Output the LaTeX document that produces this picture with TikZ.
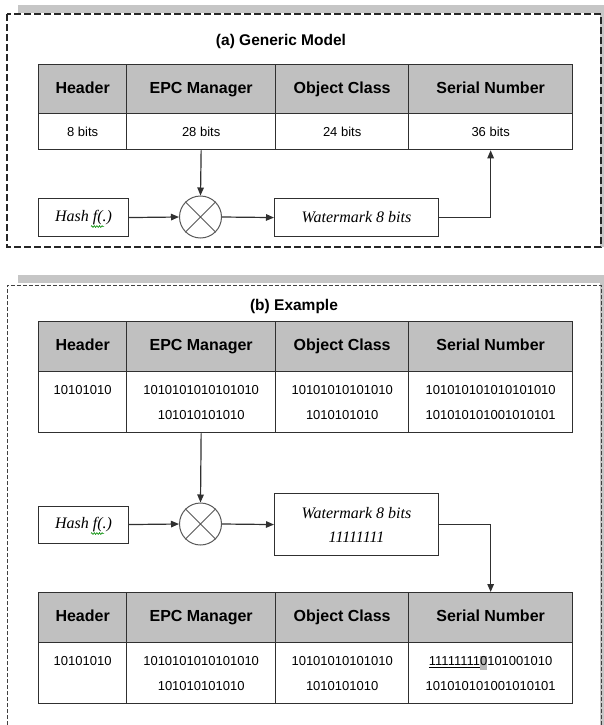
\documentclass[tikz,border=0pt]{standalone}
\usepackage{fontspec}
\setmainfont{Liberation Serif}
\setsansfont{Liberation Sans}
\usetikzlibrary{arrows.meta,calc,decorations.pathmorphing}

\definecolor{hdrgray}{HTML}{C0C0C0}
\definecolor{bargray}{HTML}{C6C6C6}
\definecolor{rulecol}{HTML}{303030}
\definecolor{markgray}{HTML}{B8B8B8}

% one row of the EPC table: prefix, top y, height, cell style, four texts
\newcommand\epcrow[8]{%
  \node[#4, minimum width=88,  minimum height=#3] (#1-1) at (38,#2)  {#5};
  \node[#4, minimum width=149, minimum height=#3] (#1-2) at (126,#2) {#6};
  \node[#4, minimum width=133, minimum height=#3] (#1-3) at (275,#2) {#7};
  \node[#4, minimum width=164, minimum height=#3] (#1-4) at (408,#2) {#8};
}

\begin{document}
\begin{tikzpicture}[x=1pt,y=-1pt,
  cellbase/.style={draw=rulecol, line width=1.3pt, rectangle, inner sep=0pt,
    anchor=north west, align=center},
  hdrcell/.style={cellbase, fill=hdrgray, text height=12pt, text depth=4pt,
    font=\sffamily\bfseries\fontsize{16}{19}\selectfont},
  datcell/.style={cellbase, fill=white,
    font=\sffamily\fontsize{13}{25}\selectfont},
  procbox/.style={draw=rulecol, line width=1.1pt, rectangle, inner sep=0pt,
    anchor=north west, align=center,
    font=\itshape\fontsize{16}{24}\selectfont},
  xorop/.style={circle, draw=black!65, line width=1pt, minimum size=42,
    inner sep=0pt},
  conn/.style={draw=rulecol, line width=1.2pt,
    -{Triangle[length=8pt,width=6.5pt]}},
  titletext/.style={font=\sffamily\bfseries\fontsize{15.5}{18}\selectfont},
  squiggle/.style={draw=green!55!black, line width=0.6pt, decorate,
    decoration={zigzag, segment length=2.6pt, amplitude=0.9pt}},
]
\useasboundingbox (0,0) rectangle (604,725);
\fill[white] (0,0) rectangle (604,725);

% ---------- panel (a): generic model ----------
\fill[bargray] (18,5) rectangle (604,13);
\fill[bargray] (600,13) rectangle (604,247);
\draw[black!85, line width=1.3pt, dash pattern=on 7pt off 3pt]
  (7,14) rectangle (601,247);
\node[titletext] (titleA) at (281,41) {(a) Generic Model};

\epcrow{aH}{64}{49}{hdrcell}{Header}{EPC Manager}{Object Class}{Serial Number}
\epcrow{aD}{113}{36}{datcell}{8 bits}{28 bits}{24 bits}{36 bits}

\node[procbox, minimum width=90, minimum height=38] (hashA) at (38,198) {Hash f(.)};
\node[xorop] (xorA) at (200.5,217) {};
\draw[black!65, line width=1pt] (xorA.45) -- (xorA.225) (xorA.135) -- (xorA.315);
\node[procbox, minimum width=164, minimum height=38] (wmA) at (274,198) {Watermark 8 bits};
\draw[squiggle] ($(hashA.center)+(7.5,9)$) -- ++(13,0);

\draw[conn] (aD-2.south) -- (xorA.north);
\draw[conn] (hashA.east) -- (xorA.west);
\draw[conn] (xorA.east) -- (wmA.west);
\draw[conn] (wmA.east) -| (aD-4.south);

% ---------- panel (b): worked example ----------
\fill[bargray] (18,275) rectangle (604,283);
\fill[bargray] (600,283) rectangle (604,725);
\draw[black!75, line width=1pt, dash pattern=on 4pt off 2pt]
  (7,725) -- (7,285) -- (601,285) -- (601,725);
\node[titletext] (titleB) at (294,306) {(b) Example};

\epcrow{bH}{321}{50}{hdrcell}{Header}{EPC Manager}{Object Class}{Serial Number}
\epcrow{bD}{371}{61}{datcell}%
  {10101010\\\mbox{}}%
  {1010101010101010\\101010101010}%
  {10101010101010\\1010101010}%
  {101010101010101010\\101010101001010101}

\node[procbox, minimum width=90, minimum height=37] (hashB) at (38,505.5) {Hash f(.)};
\node[xorop] (xorB) at (200.5,524) {};
\draw[black!65, line width=1pt] (xorB.45) -- (xorB.225) (xorB.135) -- (xorB.315);
\node[procbox, minimum width=164, minimum height=62] (wmB) at (274,493)
  {Watermark 8 bits\\11111111};
\draw[squiggle] ($(hashB.center)+(7.5,9)$) -- ++(13,0);

\epcrow{cH}{592}{50}{hdrcell}{Header}{EPC Manager}{Object Class}{Serial Number}
\epcrow{cD}{642}{61}{datcell}%
  {10101010\\\mbox{}}%
  {1010101010101010\\101010101010}%
  {10101010101010\\1010101010}%
  {\underline{11111111}{\setlength\fboxsep{0pt}\colorbox{markgray}{\rule[-4pt]{0pt}{14pt}0}}101001010\\101010101001010101}

\draw[conn] (bD-2.south) -- (xorB.north);
\draw[conn] (hashB.east) -- (xorB.west);
\draw[conn] (xorB.east) -- (wmB.west);
\draw[conn] (wmB.east) -| (cH-4.north);
\end{tikzpicture}
\end{document}
